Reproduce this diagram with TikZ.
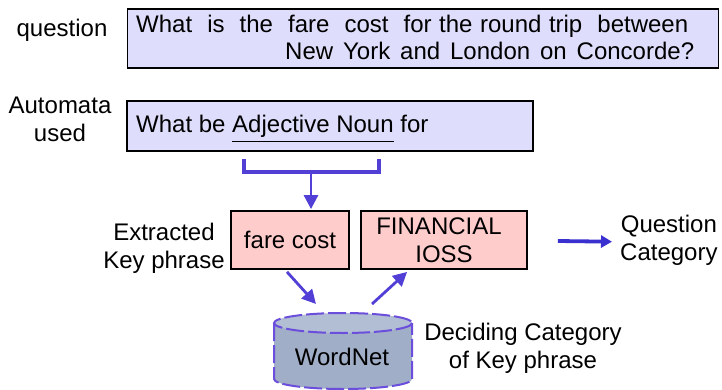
\documentclass[tikz,border=0pt]{standalone}
\usepackage{fontspec}
\setmainfont{Liberation Sans}
\usetikzlibrary{arrows.meta,calc}

\definecolor{qfill}{RGB}{222,222,252}
\definecolor{keyfill}{RGB}{255,204,204}
\definecolor{flow}{RGB}{82,64,214}
\definecolor{outflow}{RGB}{58,48,208}
\definecolor{dbbody}{RGB}{160,174,200}
\definecolor{dbtop}{RGB}{178,190,212}
\definecolor{dbedge}{RGB}{108,78,220}

% underline with a heavier rule
\newcommand\heavyul[1]{\leavevmode\vtop{\hbox{#1}\kern2.6pt\hrule height 1.8pt}}

\tikzset{
  every node/.style={font=\fontsize{24}{28}\selectfont, inner sep=0pt},
  lbl/.style={align=center},
  panel/.style={draw=black, line width=1.8pt, fill=qfill},
  keybox/.style={draw=black, line width=1.8pt, fill=keyfill, align=center,
    minimum height=58pt},
  flowline/.style={draw=flow, line width=3.2pt},
  arr/.style={draw=flow, line width=2.8pt,
    -{Triangle[length=14pt,width=14pt]}},
  outarr/.style={draw=outflow, line width=3.8pt,
    -{Triangle[length=11pt,width=12pt]}},
  dbline/.style={draw=dbedge, line width=2pt, dash pattern=on 18pt off 4pt}
}

\begin{document}
\begin{tikzpicture}[x=1pt,y=-1pt]
\useasboundingbox (0,0) rectangle (722,390);

% ---- question ----
\node[anchor=base] (qlabel) at (62,37) {question};
\node[panel, minimum width=591pt, minimum height=59pt] (question) at (423,38.5) {};
\node[anchor=base west] (qline1) at (136,33)
  {\makebox[552pt][s]{What~ is~ the~ fare~ cost~ for the round trip~ between}};
\node[anchor=base west] (qline2) at (285,60)
  {\makebox[409pt][s]{New York and London on Concorde?}};

% ---- automaton ----
\node[lbl] (alabel) at (60,119.5) {Automata\\used};
\node[panel, minimum width=406pt, minimum height=50pt] (automaton) at (330,126) {};
\node[anchor=base west] (pattern) at (136,133)
  {What be \heavyul{Adjective Noun} for};

% bracket under the matched words
\coordinate (bl) at (244,159);
\coordinate (br) at (379,159);
\coordinate (bmid) at (311,172);
\draw[flowline] (bl) -- (bl |- bmid) -- (br |- bmid) -- (br);

% ---- key phrase and category ----
\node[lbl] (klabel) at (164,248) {Extracted\\Key phrase};
\node[keybox, minimum width=118pt] (fare) at (290,240) {fare cost};
\node[keybox, minimum width=166pt] (fin) at (444,240)
  {FINANCIAL\hspace*{10pt}\\IOSS};
\node[lbl, anchor=west] (qcat) at (620,240.7) {Question\\Category};

\draw[arr] (bmid) -- ($(bmid |- fare.north)+(0,-1)$);
\draw[outarr] ($(fin.east)+(30,1)$) -- ($(qcat.west)+(-8,1)$);

% ---- WordNet cylinder ----
\fill[dbbody] (274,323) -- (274,379)
  arc[start angle=180, end angle=0, x radius=69, y radius=10] -- (412,323) -- cycle;
\fill[dbtop] (343,323) ellipse [x radius=69, y radius=10];
\draw[dbline] (274,323) -- (274,379)
  arc[start angle=180, end angle=0, x radius=69, y radius=10] -- (412,323);
\draw[dbline] (343,323) ellipse [x radius=69, y radius=10];
\node[anchor=base] (wordnet) at (342,365) {WordNet};
\coordinate (dbin) at (316,304);
\coordinate (dbout) at (372,304);

\node[lbl] (dlabel) at (523,348) {Deciding Category\\of Key phrase};

\draw[arr] ($(fare.south)+(-3,2)$) -- (dbin);
\draw[arr] (dbout) -- ($(fin.south west)+(47,2)$);
\end{tikzpicture}
\end{document}
